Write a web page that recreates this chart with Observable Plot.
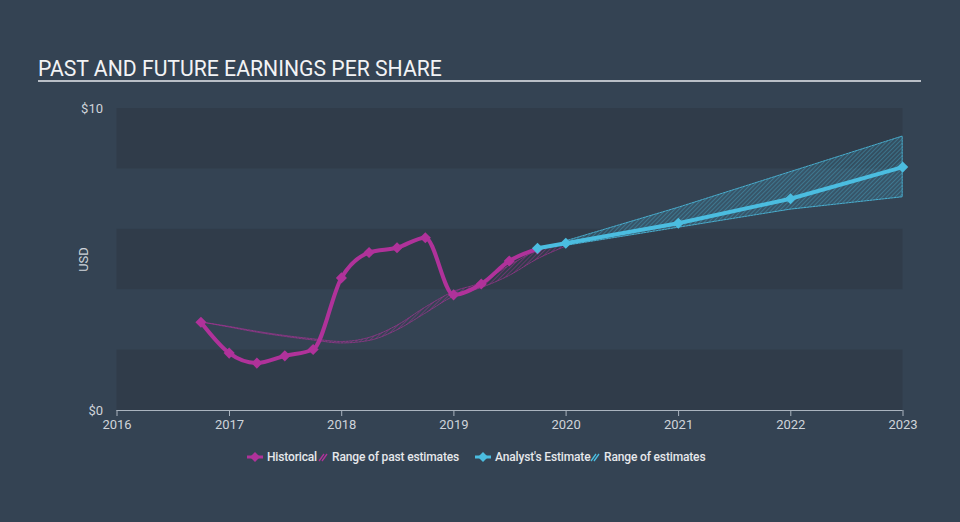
<!DOCTYPE html>
<html><head><meta charset="utf-8">
<script src="https://cdn.jsdelivr.net/npm/d3@7"></script>
<script src="https://cdn.jsdelivr.net/npm/@observablehq/plot@0.6"></script>
<style>
body{margin:0;background:#344353;width:960px;height:522px;overflow:hidden;font-family:Roboto,"Open Sans",sans-serif;position:relative;}
#title{position:absolute;left:38px;top:56px;font-size:21.2px;line-height:25px;color:#f2f3f5;}
#rule{position:absolute;left:38px;top:80px;width:883px;height:2px;background:#b9bfc7;}
#chart{position:absolute;left:0;top:90px;}
.lg{position:absolute;top:449px;height:16px;display:flex;align-items:center;font-size:12px;font-weight:500;color:#e6e8eb;white-space:nowrap;letter-spacing:-0.15px;}
.lg svg{margin-right:4px;}
</style></head>
<body>
<div id="title">PAST AND FUTURE EARNINGS PER SHARE</div>
<div id="rule"></div>
<div id="chart"></div>
<div class="lg" style="left:247px"><svg width="16" height="12"><line x1="0" y1="6" x2="16" y2="6" stroke="#b0329a" stroke-width="3"/><path d="M8 1 L13 6 L8 11 L3 6Z" fill="#b0329a"/></svg>Historical</div>
<div class="lg" style="left:318px"><svg width="10" height="12"><path d="M1 10 L6 3 M4 10 L9 3" stroke="#b0329a" stroke-width="1.3"/></svg>Range of past estimates</div>
<div class="lg" style="left:475px"><svg width="16" height="12"><line x1="0" y1="6" x2="16" y2="6" stroke="#4bbde0" stroke-width="3"/><path d="M8 1 L13 6 L8 11 L3 6Z" fill="#4bbde0"/></svg>Analyst's Estimate</div>
<div class="lg" style="left:590px"><svg width="10" height="12"><path d="M1 10 L6 3 M4 10 L9 3" stroke="#4bbde0" stroke-width="1.3"/></svg>Range of estimates</div>
<script>
const histDates = ["2016-09-30","2016-12-31","2017-03-31","2017-06-30","2017-09-30","2017-12-31","2018-03-31","2018-06-30","2018-09-30","2018-12-31","2019-03-31","2019-06-30","2019-09-30"];
const histEPS = [2.92,1.90,1.57,1.81,2.02,4.39,5.23,5.39,5.72,3.83,4.19,4.95,5.35];

const pastDates = ["2016-09-30","2016-12-31","2017-03-31","2017-06-30","2017-09-30","2017-12-31","2018-03-31","2018-06-30","2018-09-30","2018-12-31","2019-03-31","2019-06-30","2019-09-30","2019-12-31"];
const pastLow  = [2.92,2.75,2.58,2.44,2.32,2.22,2.30,2.65,3.20,3.76,4.05,4.45,5.00,5.42];
const pastHigh = [2.92,2.77,2.61,2.47,2.36,2.27,2.40,2.80,3.40,3.92,4.22,4.78,5.28,5.56];

const estDates = ["2019-09-30","2019-12-31","2020-12-31","2021-12-31","2022-12-31"];
const estEPS = [5.37,5.54,6.20,7.01,8.06];

const rangeDates = ["2019-12-31","2020-12-31","2021-12-31","2022-12-31"];
const rangeLow  = [5.45,6.05,6.65,7.06];
const rangeHigh = [5.60,6.71,7.89,9.07];

const bandLow = [0,4,8];
const bandHigh = [2,6,10];
const yTicks = [0,10];

const MAG = "#b0329a", CYAN = "#4bbde0";
const pd = d3.utcParse("%Y-%m-%d");
const hist = histDates.map((d,i)=>({date:pd(d), v:histEPS[i]}));
const past = pastDates.map((d,i)=>({date:pd(d), lo:pastLow[i], hi:pastHigh[i]}));
const est = estDates.map((d,i)=>({date:pd(d), v:estEPS[i]}));
const rng = rangeDates.map((d,i)=>({date:pd(d), lo:rangeLow[i], hi:rangeHigh[i]}));
const bands = bandLow.map((l,i)=>({lo:l, hi:bandHigh[i]}));
const x0 = pd("2016-01-01"), x1 = pd("2023-01-01");

const chart = Plot.plot({
  width: 960, height: 350,
  marginLeft: 116.5, marginRight: 57.5, marginTop: 18, marginBottom: 30,
  style: {background:"transparent", color:"#cfd4da", fontSize:"13px", fontFamily:"Roboto, sans-serif"},
  x: {type:"utc", domain:[x0,x1]},
  y: {domain:[0,10]},
  marks: [
    Plot.rect(bands, {x1: ()=>x0, x2: ()=>x1, y1:"lo", y2:"hi", fill:"#303c4a"}),
    Plot.areaY(past, {x:"date", y1:"lo", y2:"hi", curve:"monotone-x", fill:"url(#hatchM)", stroke:MAG, strokeWidth:0.8, strokeDasharray:"2,1", strokeOpacity:0.8}),
    Plot.areaY(rng, {x:"date", y1:"lo", y2:"hi", fill:"url(#hatchC)", stroke:CYAN, strokeWidth:0.9, strokeDasharray:"2,1", strokeOpacity:0.95}),
    Plot.line(hist, {x:"date", y:"v", curve:"monotone-x", stroke:MAG, strokeWidth:4}),
    Plot.dot(hist, {x:"date", y:"v", symbol:"diamond2", r:5, fill:MAG}),
    Plot.line(est, {x:"date", y:"v", stroke:CYAN, strokeWidth:4}),
    Plot.dot(est, {x:"date", y:"v", symbol:"diamond2", r:5, fill:CYAN}),
    Plot.ruleY([0], {x1:x0, x2:x1, stroke:"#aab4bf", strokeWidth:1}),
    Plot.axisX({ticks: d3.utcYear.every(1), tickFormat: d3.utcFormat("%Y"), tickSize:6, tickPadding:3, stroke:"#aab4bf", label:null, fill:"#cfd4da"}),
    Plot.axisY({ticks: yTicks, tickFormat: d=>"$"+d, tickSize:0, tickPadding:14, label:"USD", labelAnchor:"center", labelArrow:"none", labelOffset:38, fill:"#cfd4da"})
  ]
});
const defs = document.createElementNS("http://www.w3.org/2000/svg","defs");
defs.innerHTML = `
<pattern id="hatchM" patternUnits="userSpaceOnUse" width="3" height="3" patternTransform="rotate(45)">
<line x1="0" y1="0" x2="0" y2="3" stroke="${MAG}" stroke-width="1.2" stroke-opacity="0.7"/></pattern>
<pattern id="hatchC" patternUnits="userSpaceOnUse" width="3" height="3" patternTransform="rotate(45)">
<rect width="3" height="3" fill="${CYAN}" fill-opacity="0.15"/>
<line x1="0" y1="0" x2="0" y2="3" stroke="${CYAN}" stroke-width="1" stroke-opacity="0.65"/></pattern>`;
chart.insertBefore(defs, chart.firstChild);
document.getElementById("chart").appendChild(chart);
</script>
</body></html>
